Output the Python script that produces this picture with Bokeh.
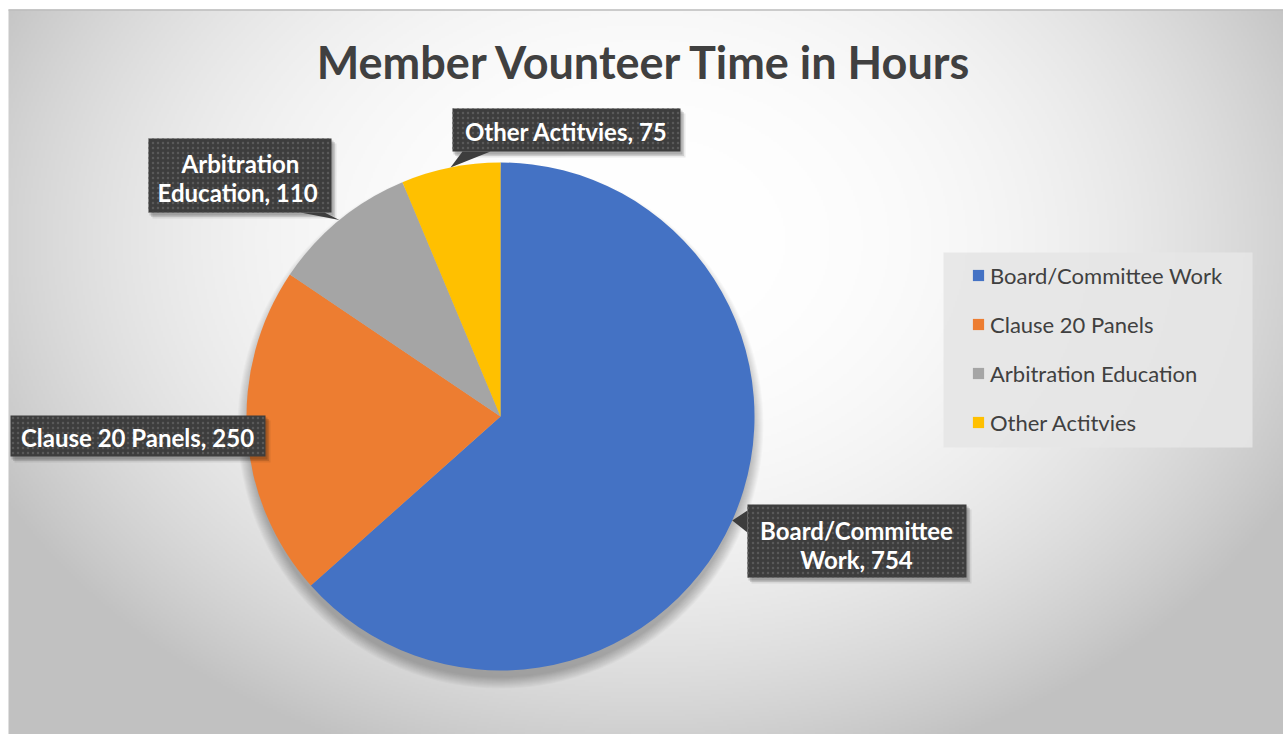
import numpy as np
from bokeh.plotting import figure
from bokeh.models import Range1d, ColumnDataSource, Legend, LegendItem
from bokeh.core.properties import value
from bokeh.embed import file_html
from bokeh.resources import INLINE

# ---------------- data ----------------
title = "Member Vounteer Time in Hours"
categories = ["Board/Committee Work", "Clause 20 Panels", "Arbitration Education", "Other Actitvies"]
hours = [754, 250, 110, 75]
colors = ["#4472C4", "#ED7D31", "#A5A5A5", "#FFC000"]
label_texts = ["Board/Committee\nWork, 754", "Clause 20 Panels, 250", "Arbitration\nEducation,  110", "Other Actitvies, 75"]

W, H = 1283, 734
FONT = "Lato"

def Y(sy):
    return H - sy

p = figure(width=W, height=H, x_range=Range1d(0, W), y_range=Range1d(0, H),
           x_axis_type=None, y_axis_type=None, toolbar_location=None,
           output_backend="svg", min_border=0, outline_line_color=None,
           background_fill_color="white", border_fill_color="white")
p.grid.visible = False

# ---------------- background gradient (style only) ----------------
x0, y0s = 8, 9
gw, gh = (W - x0) // 2, (H - y0s) // 2
xs = np.linspace(x0, W, gw)
ys_screen = np.linspace(H, y0s, gh)  # row 0 = bottom
XX, YY = np.meshgrid(xs, ys_screen)
rr = np.sqrt(((XX - 645) / 635.0) ** 2 + ((YY - 240) / 480.0) ** 2)
f = 62 * np.minimum(1.0, (rr / 1.15) ** 2.5)
g = (255 - f).astype(np.uint32)
img = (255 << 24) | (g << 16) | (g << 8) | g
p.image_rgba(image=[img.astype(np.uint32)], x=x0, y=0, dw=W - x0, dh=H - y0s)
p.segment(x0=x0, y0=Y(9.5), x1=W, y1=Y(9.5), line_color="#bdbdbd", line_width=1.5)

# ---------------- pie ----------------
cx, cy, R = 500, Y(416), 254
total = float(sum(hours))
fr = np.array(hours) / total
cum = np.concatenate([[0], np.cumsum(fr)])
starts = np.pi / 2 - 2 * np.pi * cum[:-1]
ends = np.pi / 2 - 2 * np.pi * cum[1:]
mids = (starts + ends) / 2

# soft drop shadow under the pie (style)
for k in range(12):
    p.circle(x=[cx], y=[cy - 9], radius=R + 9 - k, fill_color="black", fill_alpha=0.025, line_color=None)

src = ColumnDataSource(dict(cat=categories, val=hours, start=starts, end=ends, color=colors))
wr = p.wedge(x=cx, y=cy, radius=R, start_angle="start", end_angle="end", direction="clock",
             fill_color="color", line_color=None, source=src)

tips = [(cx + R * np.cos(m), cy + R * np.sin(m)) for m in mids]

# ---------------- data labels (callouts) ----------------
BOX = "#3d3d3d"
def callout(x_l, sy_t, x_r, sy_b, tail=None):
    for s, a in ((5, 0.08), (3.5, 0.12), (2, 0.15)):
        p.quad(left=x_l + s - 1, right=x_r + s, top=Y(sy_t) - s, bottom=Y(sy_b) - s - 1,
               fill_color="black", fill_alpha=a, line_color=None)
    if tail is not None:
        p.patch(x=[t_[0] for t_ in tail], y=[t_[1] for t_ in tail], fill_color=BOX, line_color=None)
    p.quad(left=x_l, right=x_r, top=Y(sy_t), bottom=Y(sy_b), fill_color=BOX, line_color=None,
           hatch_pattern="dot", hatch_color="#595959", hatch_scale=5, hatch_weight=1)

# Board
callout(747, 504, 966, 577, tail=[(747, Y(510)), (747, Y(532)), tips[0]])
# Clause
callout(10, 415, 265, 456)
# Arbitration
callout(148, 138, 331, 212, tail=[(300, Y(212)), (324, Y(212)), tips[2]])
# Other
callout(452, 108, 680, 151, tail=[(462, Y(151)), (490, Y(151)), tips[3]])

lab_x = [856, 137, 240, 566]
lab_y = [Y(544), Y(437), Y(177), Y(131)]
p.text(x=lab_x, y=lab_y, text=label_texts, text_color="white", text_font=value(FONT),
       text_font_style="bold", text_font_size="24px", text_align="center",
       text_baseline="middle", text_line_height=1.0)

# ---------------- title ----------------
p.text(x=[645], y=[Y(61)], text=[title], text_color="#404040", text_font=value(FONT),
       text_font_style="bold", text_font_size="45px", text_align="center", text_baseline="middle")

# ---------------- legend ----------------
p.quad(left=943, right=1252, top=Y(252), bottom=Y(447), fill_color="#e6e6e6", fill_alpha=0.9, line_color=None)
items = [LegendItem(label=c, renderers=[wr], index=i) for i, c in enumerate(categories)]
leg = Legend(items=items, location=(971, Y(436)), orientation="vertical",
             background_fill_alpha=0, border_line_alpha=0, padding=0, margin=0,
             glyph_width=14, glyph_height=14, label_height=28, spacing=21, label_standoff=5,
             label_text_font=FONT, label_text_font_size="22px", label_text_color="#404040")
p.add_layout(leg, "center")

open("out.html", "w").write(file_html(p, INLINE))
